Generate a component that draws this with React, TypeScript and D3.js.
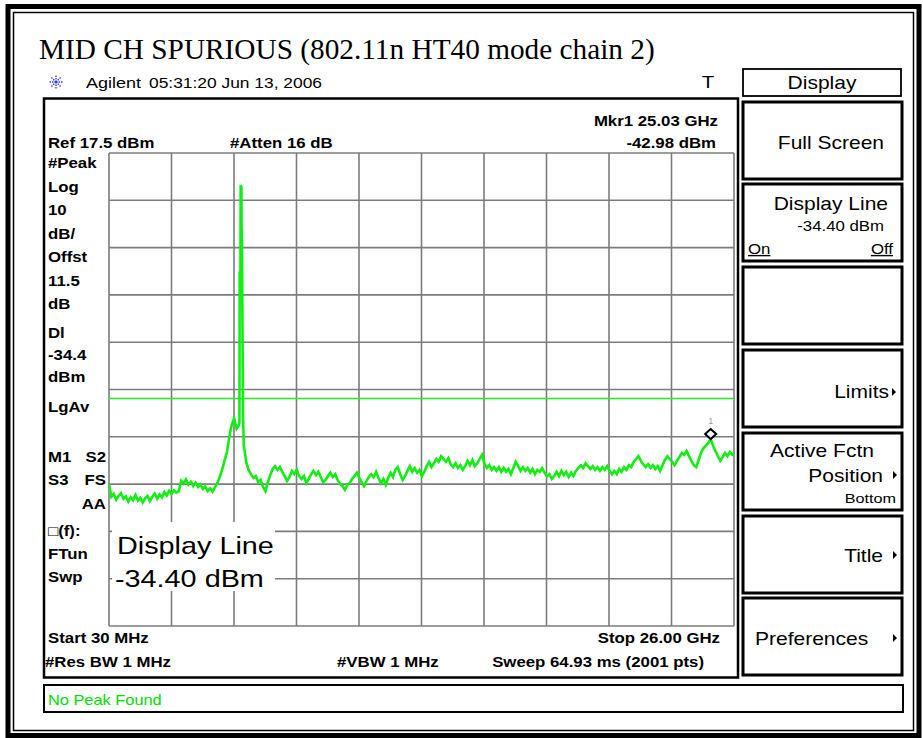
import React from "react";
import * as d3 from "d3";

// ---- data ----
const startGHz = 0.03;
const stopGHz = 26.0;
const refLevelDbm = 17.5;
const dbPerDiv = 10;
const displayLineDbm = -34.4;
const gridStepGHz = 0.1;

// trace levels (dBm) on a 0.1 GHz grid starting at 0.03 GHz
const traceLevelDbm = [
  -52.5, -55.2, -54.6, -55.8, -55.0, -54.4, -55.6, -55.1, -56.2, -55.3,
  -55.9, -54.8, -56.0, -55.4, -56.4, -55.5, -55.0, -56.1, -55.2, -54.5,
  -55.6, -54.7, -55.3, -54.2, -54.9, -53.9, -54.6, -53.8, -54.3, -54.0,
  -51.8, -52.4, -51.5, -52.6, -52.0, -52.9, -52.2, -53.1, -52.6, -53.5,
  -53.0, -54.0, -53.4, -54.1, -53.2, -52.3, -51.0, -49.5, -47.6, -45.8,
  -42.5, -40.0, -38.6, -40.8, -40.0, 10.4, -44.2, -47.8, -49.5, -50.4,
  -51.2, -50.8, -52.1, -51.6, -53.1, -54.0, -52.1, -50.6, -49.3, -48.7,
  -49.5, -48.9, -49.9, -50.8, -51.8, -51.0, -49.7, -50.4, -49.5, -50.8,
  -51.4, -50.8, -52.3, -51.4, -50.4, -49.7, -50.6, -49.9, -51.0, -52.1,
  -51.6, -50.8, -50.1, -51.0, -50.4, -51.6, -52.5, -52.9, -53.7, -52.7,
  -52.3, -51.4, -50.8, -50.1, -51.2, -52.1, -52.9, -51.8, -51.0, -50.4,
  -51.0, -49.9, -51.2, -52.3, -51.4, -52.7, -51.2, -50.1, -51.0, -49.5,
  -48.9, -50.4, -51.6, -50.8, -49.7, -48.7, -49.9, -49.1, -50.1, -49.5,
  -50.8, -49.9, -48.7, -47.8, -48.9, -48.1, -47.2, -47.8, -46.6, -47.2,
  -47.8, -47.0, -48.3, -48.9, -48.1, -49.1, -48.5, -49.5, -48.7, -47.6,
  -48.5, -47.4, -48.7, -48.1, -47.2, -46.3, -48.1, -49.1, -48.5, -49.5,
  -48.9, -49.7, -48.9, -49.9, -49.1, -49.9, -49.3, -50.4, -49.1, -47.8,
  -48.7, -49.7, -48.9, -49.7, -49.1, -50.1, -49.3, -50.4, -49.5, -49.9,
  -49.1, -50.1, -50.8, -50.4, -51.4, -50.8, -49.9, -50.8, -49.7, -50.6,
  -49.9, -51.0, -50.1, -50.8, -49.7, -49.1, -48.5, -49.1, -48.1, -48.7,
  -49.3, -48.7, -49.5, -48.9, -49.7, -48.9, -49.5, -48.7, -49.7, -50.4,
  -49.7, -50.4, -49.3, -49.9, -48.9, -49.5, -48.5, -48.9, -47.8, -47.2,
  -46.6, -47.6, -48.3, -48.9, -48.3, -49.1, -48.5, -49.3, -48.7, -49.7,
  -48.5, -47.4, -46.6, -47.2, -47.8, -48.5, -47.6, -46.8, -45.9, -46.3,
  -45.5, -46.6, -47.6, -48.5, -48.9, -47.4, -45.9, -44.9, -44.4, -43.8,
  -43.0, -44.4, -45.5, -46.6, -47.6, -46.8, -45.9, -46.6, -45.7, -46.3,
  -46.0,
];

// fine detail of the carrier spike
const spikeFreqGHz = [5.45, 5.46, 5.49, 5.50, 5.54, 5.55, 5.57, 5.60];
const spikeLevelDbm = [-39.5, -8.3, -8.5, 10.7, 1.5, 1.3, -14.0, -38.0];

const markerFreqGHz = 25.03;
const markerLevelDbm = -42.98;

const leftLabels = ["#Peak", "Log", "10", "dB/", "Offst", "11.5", "dB"];
const leftLabels2 = ["Dl", "-34.4", "dBm"];

// ---- layout ----
const W = 923;
const H = 738;
const gx0 = 109, gx1 = 734, gy0 = 153, gy1 = 626;
const SX = 1.2;
const SANS = "'Liberation Sans', Arial, sans-serif";

function T({ x, y, children, size = 15, bold = false, anchor = "start", fill = "#000", sx = SX, deco }: any) {
  return (
    <text
      transform={`translate(${x},${y}) scale(${sx},1)`}
      fontSize={size}
      fontWeight={bold ? "bold" : "normal"}
      textAnchor={anchor}
      fill={fill}
      fontFamily={SANS}
      textDecoration={deco}
    >
      {children}
    </text>
  );
}

function Tri({ x, y }: { x: number; y: number }) {
  return <path d={`M${x},${y - 4}L${x + 4},${y}L${x},${y + 4}Z`} fill="#000" />;
}

export default function App() {
  const x = d3.scaleLinear().domain([startGHz, stopGHz]).range([gx0, gx1]);
  const y = d3
    .scaleLinear()
    .domain([refLevelDbm, refLevelDbm - 10 * dbPerDiv])
    .range([gy0, gy1]);

  const pts: [number, number][] = traceLevelDbm.map((v, i) => [startGHz + i * gridStepGHz, v]);
  spikeFreqGHz.forEach((f, i) => pts.push([f, spikeLevelDbm[i]]));
  pts.sort((a, b) => a[0] - b[0]);

  const line = d3
    .line<[number, number]>()
    .x((d) => x(d[0]))
    .y((d) => y(d[1]));

  const xTicks = d3.range(11).map((i) => gx0 + ((gx1 - gx0) * i) / 10);
  const yTicks = d3.range(11).map((i) => y(refLevelDbm - i * dbPerDiv));

  const mx = x(markerFreqGHz);
  const my = y(markerLevelDbm);

  const panelTops = [102, 184, 267, 350, 433, 516, 598];
  const gridColor = "#7c7c7c";

  // Agilent starburst icon
  const star = d3.range(8).map((k) => {
    const a = (k * Math.PI) / 4;
    return { x2: 56 + 6.5 * Math.cos(a), y2: 82 + 6.5 * Math.sin(a) };
  });

  return (
    <svg
      width={W}
      height={H}
      style={{ position: "absolute", left: 0, top: 0, background: "#fff" }}
    >
      <rect x={0} y={0} width={W} height={H} fill="#fff" />
      {/* outer frame */}
      <rect x={8} y={6.5} width={911} height={729} fill="none" stroke="#000" strokeWidth={5} />
      <rect x={13.5} y={12.5} width={900} height={718} fill="none" stroke="#000" strokeWidth={1.5} />

      {/* title */}
      <text x={39} y={59} fontFamily="'Liberation Serif', 'Times New Roman', serif" fontSize={29.3}>
        MID CH SPURIOUS (802.11n HT40 mode chain 2)
      </text>

      {/* header */}
      <g stroke="#3344ee" strokeWidth={1.4} strokeDasharray="1.5,1">
        {star.map((s, i) => (
          <line key={i} x1={56} y1={82} x2={s.x2} y2={s.y2} />
        ))}
      </g>
      <T x={86} y={88} size={15}>Agilent</T>
      <T x={149} y={88} size={14.5}>05:31:20  Jun 13, 2006</T>
      <T x={708} y={88} size={17} anchor="middle">T</T>

      {/* screen box */}
      <rect x={44} y={98.5} width={694} height={579} fill="none" stroke="#000" strokeWidth={2.5} />

      <T x={718} y={126} size={14} bold anchor="end">Mkr1  25.03 GHz</T>
      <T x={716} y={148} size={14} bold anchor="end">-42.98 dBm</T>
      <T x={48} y={148} size={14} bold>Ref 17.5 dBm</T>
      <T x={230} y={148} size={14} bold>#Atten 16 dB</T>

      {leftLabels.map((s, i) => (
        <T key={s + i} x={48} y={168 + i * 23.5} size={14} bold>{s}</T>
      ))}
      {leftLabels2.map((s, i) => (
        <T key={s + i} x={48} y={338 + i * 22} size={14} bold>{s}</T>
      ))}
      <T x={48} y={412} size={14} bold>LgAv</T>
      <T x={48} y={462} size={14} bold>M1</T>
      <T x={106} y={462} size={14} bold anchor="end">S2</T>
      <T x={48} y={485} size={14} bold>S3</T>
      <T x={106} y={485} size={14} bold anchor="end">FS</T>
      <T x={106} y={509} size={14} bold anchor="end">AA</T>
      <T x={48} y={536} size={14} bold>□(f):</T>
      <T x={48} y={559} size={14} bold>FTun</T>
      <T x={48} y={582} size={14} bold>Swp</T>

      {/* graticule */}
      <g stroke={gridColor} strokeWidth={1.6}>
        {xTicks.map((gx, i) => (
          <line key={"v" + i} x1={gx} x2={gx} y1={gy0} y2={gy1} />
        ))}
        {yTicks.map((gy, i) => (
          <line key={"h" + i} x1={gx0} x2={gx1} y1={gy} y2={gy} />
        ))}
      </g>

      {/* display line */}
      <line x1={gx0} x2={gx1} y1={y(displayLineDbm)} y2={y(displayLineDbm)} stroke="#22ee22" strokeWidth={1.3} />

      <clipPath id="gclip">
        <rect x={gx0} y={gy0 - 5} width={gx1 - gx0} height={gy1 - gy0 + 10} />
      </clipPath>
      <path d={line(pts) || ""} fill="none" stroke="#11ee11" strokeWidth={2.6} clipPath="url(#gclip)" strokeLinejoin="miter" />

      {/* marker */}
      <path
        d={`M${mx},${my - 10}L${mx + 5.5},${my - 5}L${mx},${my}L${mx - 5.5},${my - 5}Z`}
        fill="#fff"
        stroke="#000"
        strokeWidth={2}
      />
      <T x={mx} y={my - 15} size={9} anchor="middle" fill="#999" sx={1}>1</T>

      {/* active function readout */}
      <rect x={112} y={522} width={163} height={69} fill="#fff" />
      <T x={117} y={554} size={24}>Display Line</T>
      <T x={115} y={587} size={24}>-34.40 dBm</T>

      <T x={48} y={643} size={14} bold>Start 30 MHz</T>
      <T x={720} y={643} size={14} bold anchor="end">Stop 26.00 GHz</T>
      <T x={45} y={667} size={14} bold>#Res BW 1 MHz</T>
      <T x={337} y={667} size={14} bold>#VBW 1 MHz</T>
      <T x={704} y={667} size={14} bold anchor="end">Sweep 64.93 ms (2001 pts)</T>

      {/* status line */}
      <rect x={44} y={685} width={859} height={27} fill="none" stroke="#000" strokeWidth={2} />
      <T x={48} y={705} size={14} fill="#00dd00" sx={1.17}>No Peak Found</T>

      {/* softkey panel */}
      <rect x={743} y={69} width={158} height={27} fill="none" stroke="#000" strokeWidth={1.8} />
      <T x={822} y={89} size={17.5} anchor="middle">Display</T>
      {panelTops.map((t, i) => (
        <rect key={i} x={743} y={t} width={159} height={77} fill="none" stroke="#000" strokeWidth={3} />
      ))}
      <T x={884} y={149} size={17.5} anchor="end">Full Screen</T>
      <T x={888} y={210} size={17.5} anchor="end">Display Line</T>
      <T x={884} y={231} size={14} anchor="end">-34.40 dBm</T>
      <T x={748} y={254} size={14} deco="underline">On</T>
      <T x={893} y={254} size={14} anchor="end" deco="underline">Off</T>
      <T x={889} y={398} size={17.5} anchor="end">Limits</T>
      <Tri x={892} y={392} />
      <T x={822} y={457} size={17.5} anchor="middle">Active Fctn</T>
      <T x={883} y={482} size={17.5} anchor="end">Position</T>
      <Tri x={893} y={475} />
      <T x={896} y={503} size={13.5} anchor="end">Bottom</T>
      <T x={883} y={562} size={17.5} anchor="end">Title</T>
      <Tri x={893} y={555} />
      <T x={755} y={645} size={17.5}>Preferences</T>
      <Tri x={893} y={638} />
    </svg>
  );
}
